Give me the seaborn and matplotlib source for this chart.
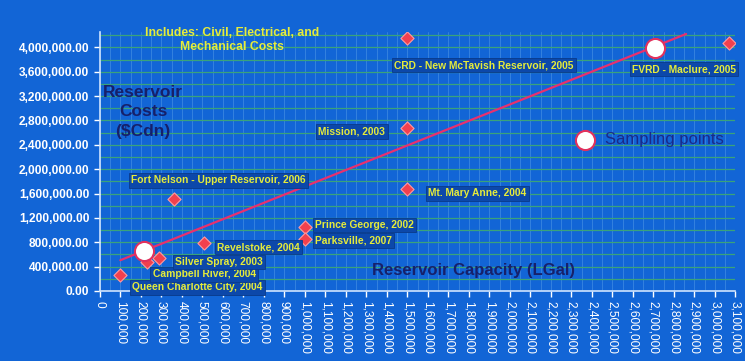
import numpy as np
import pandas as pd
import matplotlib as mpl
mpl.use('Agg')
import matplotlib.pyplot as plt
from matplotlib.ticker import MultipleLocator, FuncFormatter
import seaborn as sns

# reservoir cost data (capacity in LGal, cost in $Cdn)
names = ["Queen Charlotte City, 2004", "Campbell River, 2004", "Silver Spray, 2003",
         "Fort Nelson - Upper Reservoir, 2006", "Revelstoke, 2004", "Prince George, 2002",
         "Parksville, 2007", "Mission, 2003", "Mt. Mary Anne, 2004",
         "CRD - New McTavish Reservoir, 2005", "FVRD - Maclure, 2005"]
capacity = [100000, 228000, 288000, 360000, 510000, 1000000, 1000000,
            1500000, 1500000, 1500000, 3070000]
cost = [255000, 470000, 545000, 1505000, 785000, 1050000, 860000,
        2670000, 1670000, 4150000, 4070000]

sample_capacity = [214000, 2710000]
sample_cost = [655000, 3990000]

trend_capacity = [100000, 2860000]
trend_cost = [505000, 4220000]

# label placement: offset in pixels from the point, horizontal alignment
label_pos = {
    "Queen Charlotte City, 2004": (12, -12, 'left'),
    "Campbell River, 2004": (6, -12, 'left'),
    "Silver Spray, 2003": (16, -4, 'left'),
    "Fort Nelson - Upper Reservoir, 2006": (45, 19, 'center'),
    "Revelstoke, 2004": (13, -4, 'left'),
    "Prince George, 2002": (10, 2, 'left'),
    "Parksville, 2007": (10, -2, 'left'),
    "Mission, 2003": (-22, -3, 'right'),
    "Mt. Mary Anne, 2004": (21, -4, 'left'),
    "CRD - New McTavish Reservoir, 2005": (-13, -27, 'left'),
    "FVRD - Maclure, 2005": (7, -26, 'right'),
}

BG = '#1265d6'
YELLOW = '#e6ec3a'
NAVY = '#16206a'

df = pd.DataFrame({"name": names, "capacity": capacity, "cost": cost})
samples = pd.DataFrame({"capacity": sample_capacity, "cost": sample_cost})
trend = pd.DataFrame({"capacity": trend_capacity, "cost": trend_cost})

sns.set_theme(style="dark", rc={"axes.facecolor": BG, "figure.facecolor": BG})
plt.rcParams['font.family'] = ['Liberation Sans', 'DejaVu Sans']

fig, ax = plt.subplots(figsize=(7.45, 3.61), dpi=100)
fig.subplots_adjust(left=0.134, right=0.987, top=0.911, bottom=0.194)

sns.lineplot(data=trend, x="capacity", y="cost", ax=ax, color='#e8306e', lw=1.6, zorder=3)
sns.scatterplot(data=df, x="capacity", y="cost", ax=ax, marker='D', s=45,
                color='#f2404e', edgecolor='#ff9aa0', linewidth=0.8, zorder=4)
sns.scatterplot(data=samples, x="capacity", y="cost", ax=ax, marker='o', s=190,
                color='white', edgecolor='#e2305c', linewidth=1.5, zorder=5,
                label="Sampling points")

for nm, x, y in zip(names, capacity, cost):
    dx, dy, ha = label_pos[nm]
    ax.annotate(nm, (x, y), xytext=(dx, dy), textcoords='offset pixels',
                ha=ha, va='center', fontsize=7.4, fontweight='bold', color=YELLOW,
                bbox=dict(boxstyle='square,pad=0.22', fc='#0c48aa', ec='#0a3a8a', lw=0.6),
                zorder=6)

ax.set_xlim(0, 3100000)
ax.set_ylim(0, 4250000)
ax.xaxis.set_major_locator(MultipleLocator(100000))
ax.xaxis.set_minor_locator(MultipleLocator(50000))
ax.yaxis.set_major_locator(MultipleLocator(400000))
ax.yaxis.set_minor_locator(MultipleLocator(200000))
ax.xaxis.set_major_formatter(FuncFormatter(lambda v, p: f"{v:,.0f}"))
ax.yaxis.set_major_formatter(FuncFormatter(lambda v, p: f"{v:,.2f}"))

ax.grid(axis='y', which='both', color='#3aa37a', lw=0.9)
ax.grid(axis='x', which='both', color='#3a86e0', lw=0.6)
ax.set_axisbelow(True)

for s in ['top', 'right']:
    ax.spines[s].set_visible(False)
for s in ['left', 'bottom']:
    ax.spines[s].set_visible(True)
    ax.spines[s].set_color('#cfe4ff')
    ax.spines[s].set_linewidth(1.2)

ax.tick_params(axis='both', which='major', colors='white', length=4, width=1,
               direction='out', left=True, bottom=True)
ax.tick_params(axis='x', which='major', labelsize=8.6, labelrotation=-90, pad=3)
ax.tick_params(axis='y', which='major', labelsize=8.6)
for t in ax.get_yticklabels():
    t.set_fontweight('bold')
ax.set_xlabel("")
ax.set_ylabel("")

fig.text(232 / 745, 1 - 40 / 361, "Includes: Civil, Electrical, and\nMechanical Costs",
         ha='center', va='center', fontsize=8.8, fontweight='bold', color=YELLOW,
         linespacing=1.3)
fig.text(143 / 745, 1 - 112 / 361, "Reservoir\nCosts\n($Cdn)", ha='center', va='center',
         fontsize=12.5, fontweight='bold', color=NAVY, linespacing=1.4)
fig.text(474 / 745, 1 - 270 / 361, "Reservoir Capacity (LGal)", ha='center', va='center',
         fontsize=12, fontweight='bold', color=NAVY)

leg = ax.legend(loc='center left', bbox_to_anchor=(0.726, 0.585), frameon=False,
                fontsize=12, handletextpad=0.2, borderaxespad=0)
for t in leg.get_texts():
    t.set_color('#1a2a88')

fig.savefig("out.png", dpi=100, facecolor=BG)
